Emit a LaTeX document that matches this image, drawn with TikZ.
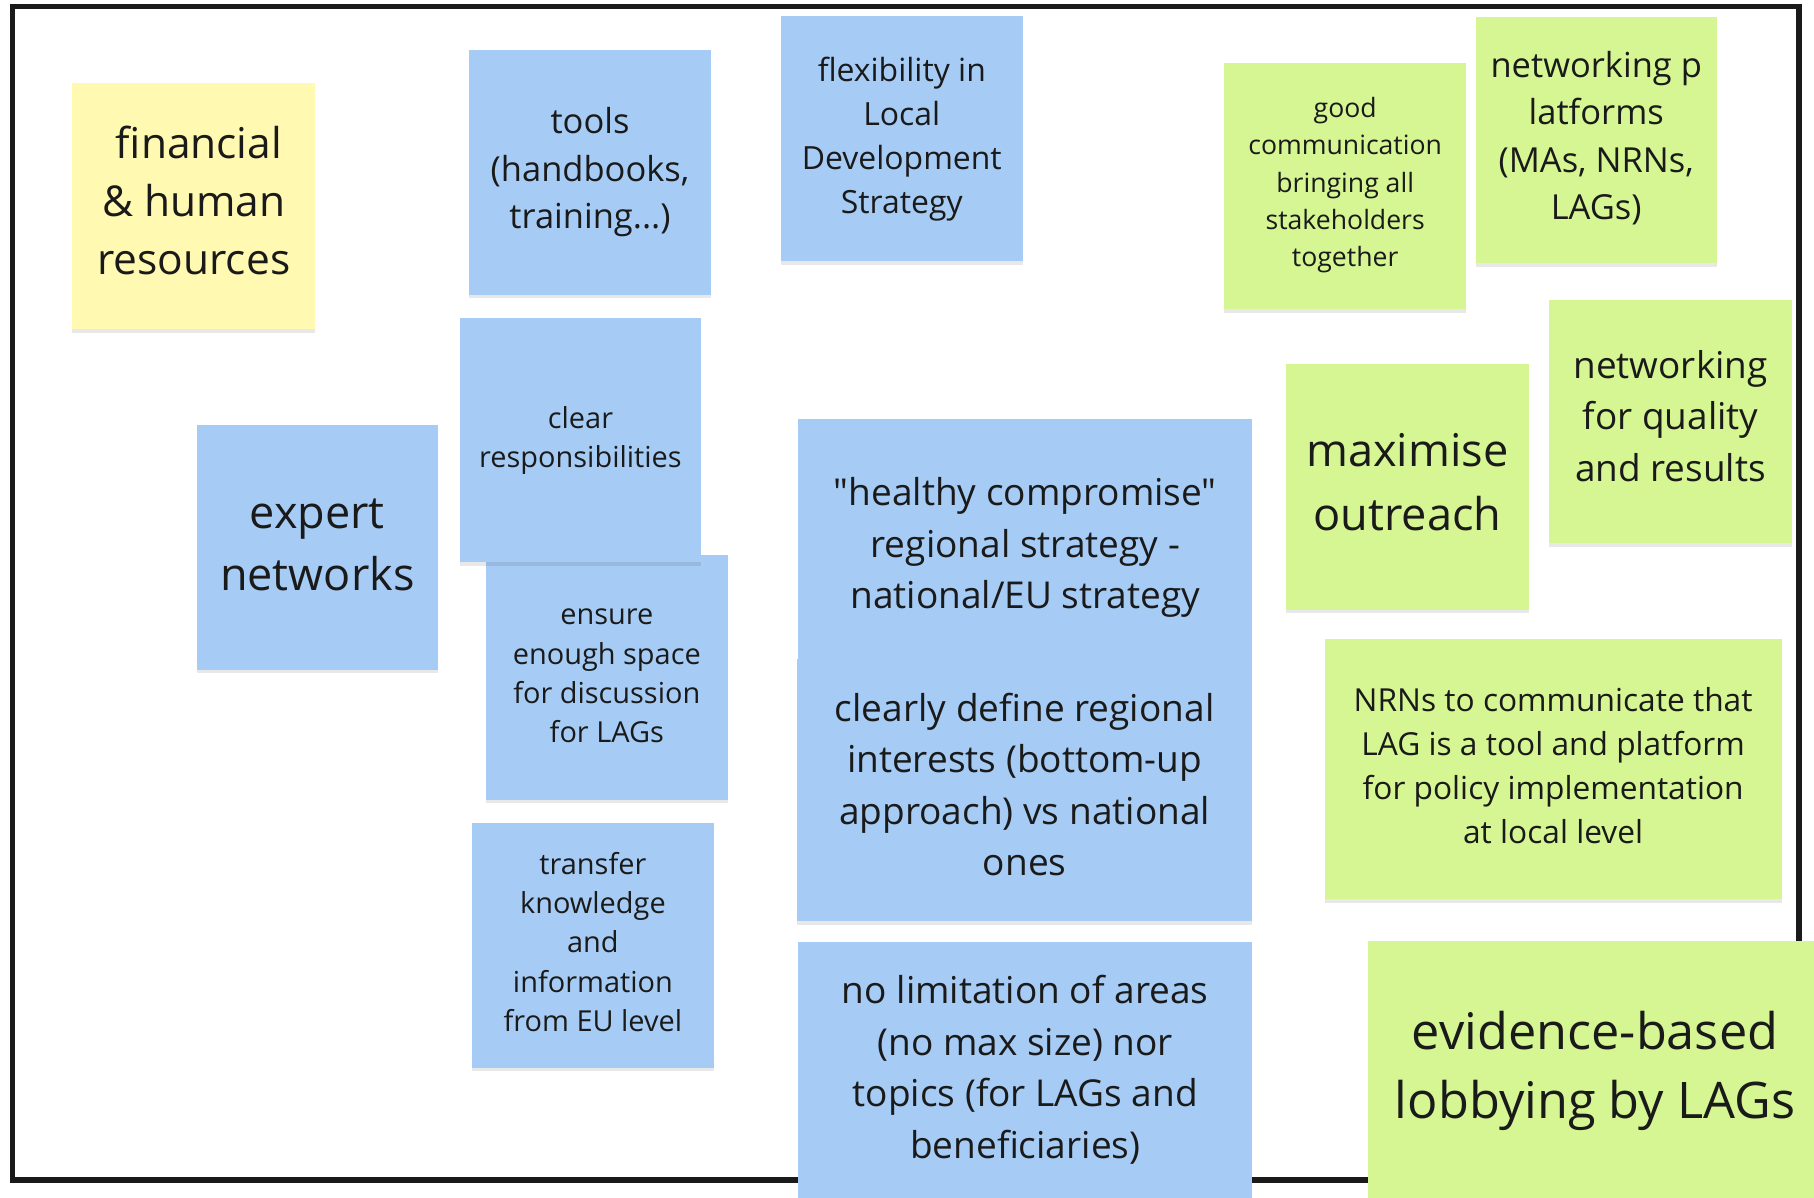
\documentclass[tikz,border=0pt]{standalone}
\usepackage{fontspec}
\setmainfont{Open Sans}[Ligatures=TeXOff]
\usetikzlibrary{shadows}
\definecolor{sblue}{RGB}{166,204,245}
\definecolor{sgreen}{RGB}{213,246,146}
\definecolor{syellow}{RGB}{255,249,177}
\definecolor{ink}{RGB}{26,26,26}
\begin{document}
\begin{tikzpicture}[x=1pt,y=-1pt,
  sticky/.style={rectangle, inner sep=0pt,
    drop shadow={shadow xshift=0pt, shadow yshift=-3pt, opacity=0.09, fill=black}},
  bluesticky/.style={sticky, fill=sblue},
  greensticky/.style={sticky, fill=sgreen},
  yellowsticky/.style={sticky, fill=syellow},
  stickytext/.style={inner sep=0pt, align=center, text=ink},
]
\useasboundingbox[fill=white] (0,0) rectangle (1568,1035.5);
\draw[line width=4.5pt, ink] (11,5.8) rectangle (1555,1020);

\node[yellowsticky, minimum width=210pt, minimum height=212.5pt] (fin) at (167.5,178.25) {};
\node[stickytext, font=\fontsize{36.7}{50}\selectfont] (finT) at ([yshift=5pt]fin.center)
  {\hspace*{9pt}financial\\ \& human\\ resources};

\node[bluesticky, minimum width=210pt, minimum height=212pt] (tools) at (510,149) {};
\node[stickytext, font=\fontsize{29.8}{41}\selectfont] (toolsT) at (tools.center)
  {tools\\ (handbooks,\\ training...)};

\node[bluesticky, minimum width=209pt, minimum height=212pt] (flex) at (779.5,120) {};
\node[stickytext, font=\fontsize{27.6}{38}\selectfont] (flexT) at (flex.center)
  {flexibility in\\ Local\\ Development\\ Strategy};

\node[greensticky, minimum width=209.5pt, minimum height=212.7pt] (good) at (1162.75,161) {};
\node[stickytext, font=\fontsize{23}{32}\selectfont] (goodT) at ([yshift=1pt]good.center)
  {good\\ communication\\ bringing all\\ stakeholders\\ together};

\node[greensticky, minimum width=208.5pt, minimum height=212.6pt] (netp) at (1379.75,121.3) {};
\node[stickytext, font=\fontsize{29.8}{41}\selectfont] (netpT) at ([yshift=2pt]netp.center)
  {networking p\\ latforms\\ (MAs, NRNs,\\ LAGs)};

\node[bluesticky, minimum width=208.5pt, minimum height=212pt] (expert) at (274.25,473) {};
\node[stickytext, font=\fontsize{38.9}{53}\selectfont] (expertT) at ([yshift=2pt]expert.center)
  {expert\\ networks};

\node[bluesticky, minimum width=209pt, minimum height=212pt] (ensure) at (524.5,585.5) {};
\node[stickytext, font=\fontsize{25}{34}\selectfont] (ensureT) at ([yshift=1pt]ensure.center)
  {ensure\\ enough space\\ for discussion\\ for LAGs};

\node[bluesticky, minimum width=208.5pt, minimum height=211pt] (clear) at (501.75,380.5) {};
\node[stickytext, font=\fontsize{25}{34}\selectfont] (clearT) at (clear.center)
  {clear\\ responsibilities};

\node[bluesticky, minimum width=209pt, minimum height=211.6pt] (transfer) at (512.5,817.2) {};
\node[stickytext, font=\fontsize{25}{34}\selectfont] (transferT) at ([yshift=3pt]transfer.center)
  {transfer\\ knowledge\\ and\\ information\\ from EU level};

\node[bluesticky, minimum width=392.5pt, minimum height=223pt] (healthy) at (886.25,473.5) {};
\node[stickytext, font=\fontsize{32}{44.5}\selectfont] (healthyT) at (healthy.center)
  {"healthy compromise"\\ regional strategy -\\ national/EU strategy};

\node[bluesticky, minimum width=393.4pt, minimum height=226.7pt] (clearly) at (885.7,683.15) {};
\node[stickytext, font=\fontsize{32}{44.5}\selectfont] (clearlyT) at ([yshift=5pt]clearly.center)
  {clearly define regional\\ interests (bottom-up\\ approach) vs national\\ ones};

\node[bluesticky, minimum width=392.5pt, minimum height=223pt] (nolim) at (886.2,925.5) {};
\node[stickytext, font=\fontsize{32}{44.5}\selectfont] (nolimT) at ([yshift=1pt]nolim.center)
  {no limitation of areas\\ (no max size) nor\\ topics (for LAGs and\\ beneficiaries)};

\node[greensticky, minimum width=210pt, minimum height=212pt] (maxim) at (1216.5,421) {};
\node[stickytext, font=\fontsize{39}{55}\selectfont] (maximT) at ([yshift=4pt]maxim.center)
  {maximise\\ outreach};

\node[greensticky, minimum width=210pt, minimum height=210.7pt] (netq) at (1444,364.35) {};
\node[stickytext, font=\fontsize{31.9}{44.5}\selectfont] (netqT) at ([yshift=5pt]netq.center)
  {networking\\ for quality\\ and results};

\node[greensticky, minimum width=395pt, minimum height=224.8pt] (nrns) at (1342.5,664.8) {};
\node[stickytext, font=\fontsize{27.4}{38}\selectfont] (nrnsT) at ([yshift=3pt]nrns.center)
  {NRNs to communicate that\\ LAG is a tool and platform\\ for policy implementation\\ at local level};

\node[greensticky, minimum width=392.5pt, minimum height=223pt] (evid) at (1378.75,924.5) {};
\node[stickytext, font=\fontsize{43.6}{60}\selectfont] (evidT) at ([yshift=-1pt]evid.center)
  {evidence-based\\ lobbying by LAGs};
\end{tikzpicture}
\end{document}
